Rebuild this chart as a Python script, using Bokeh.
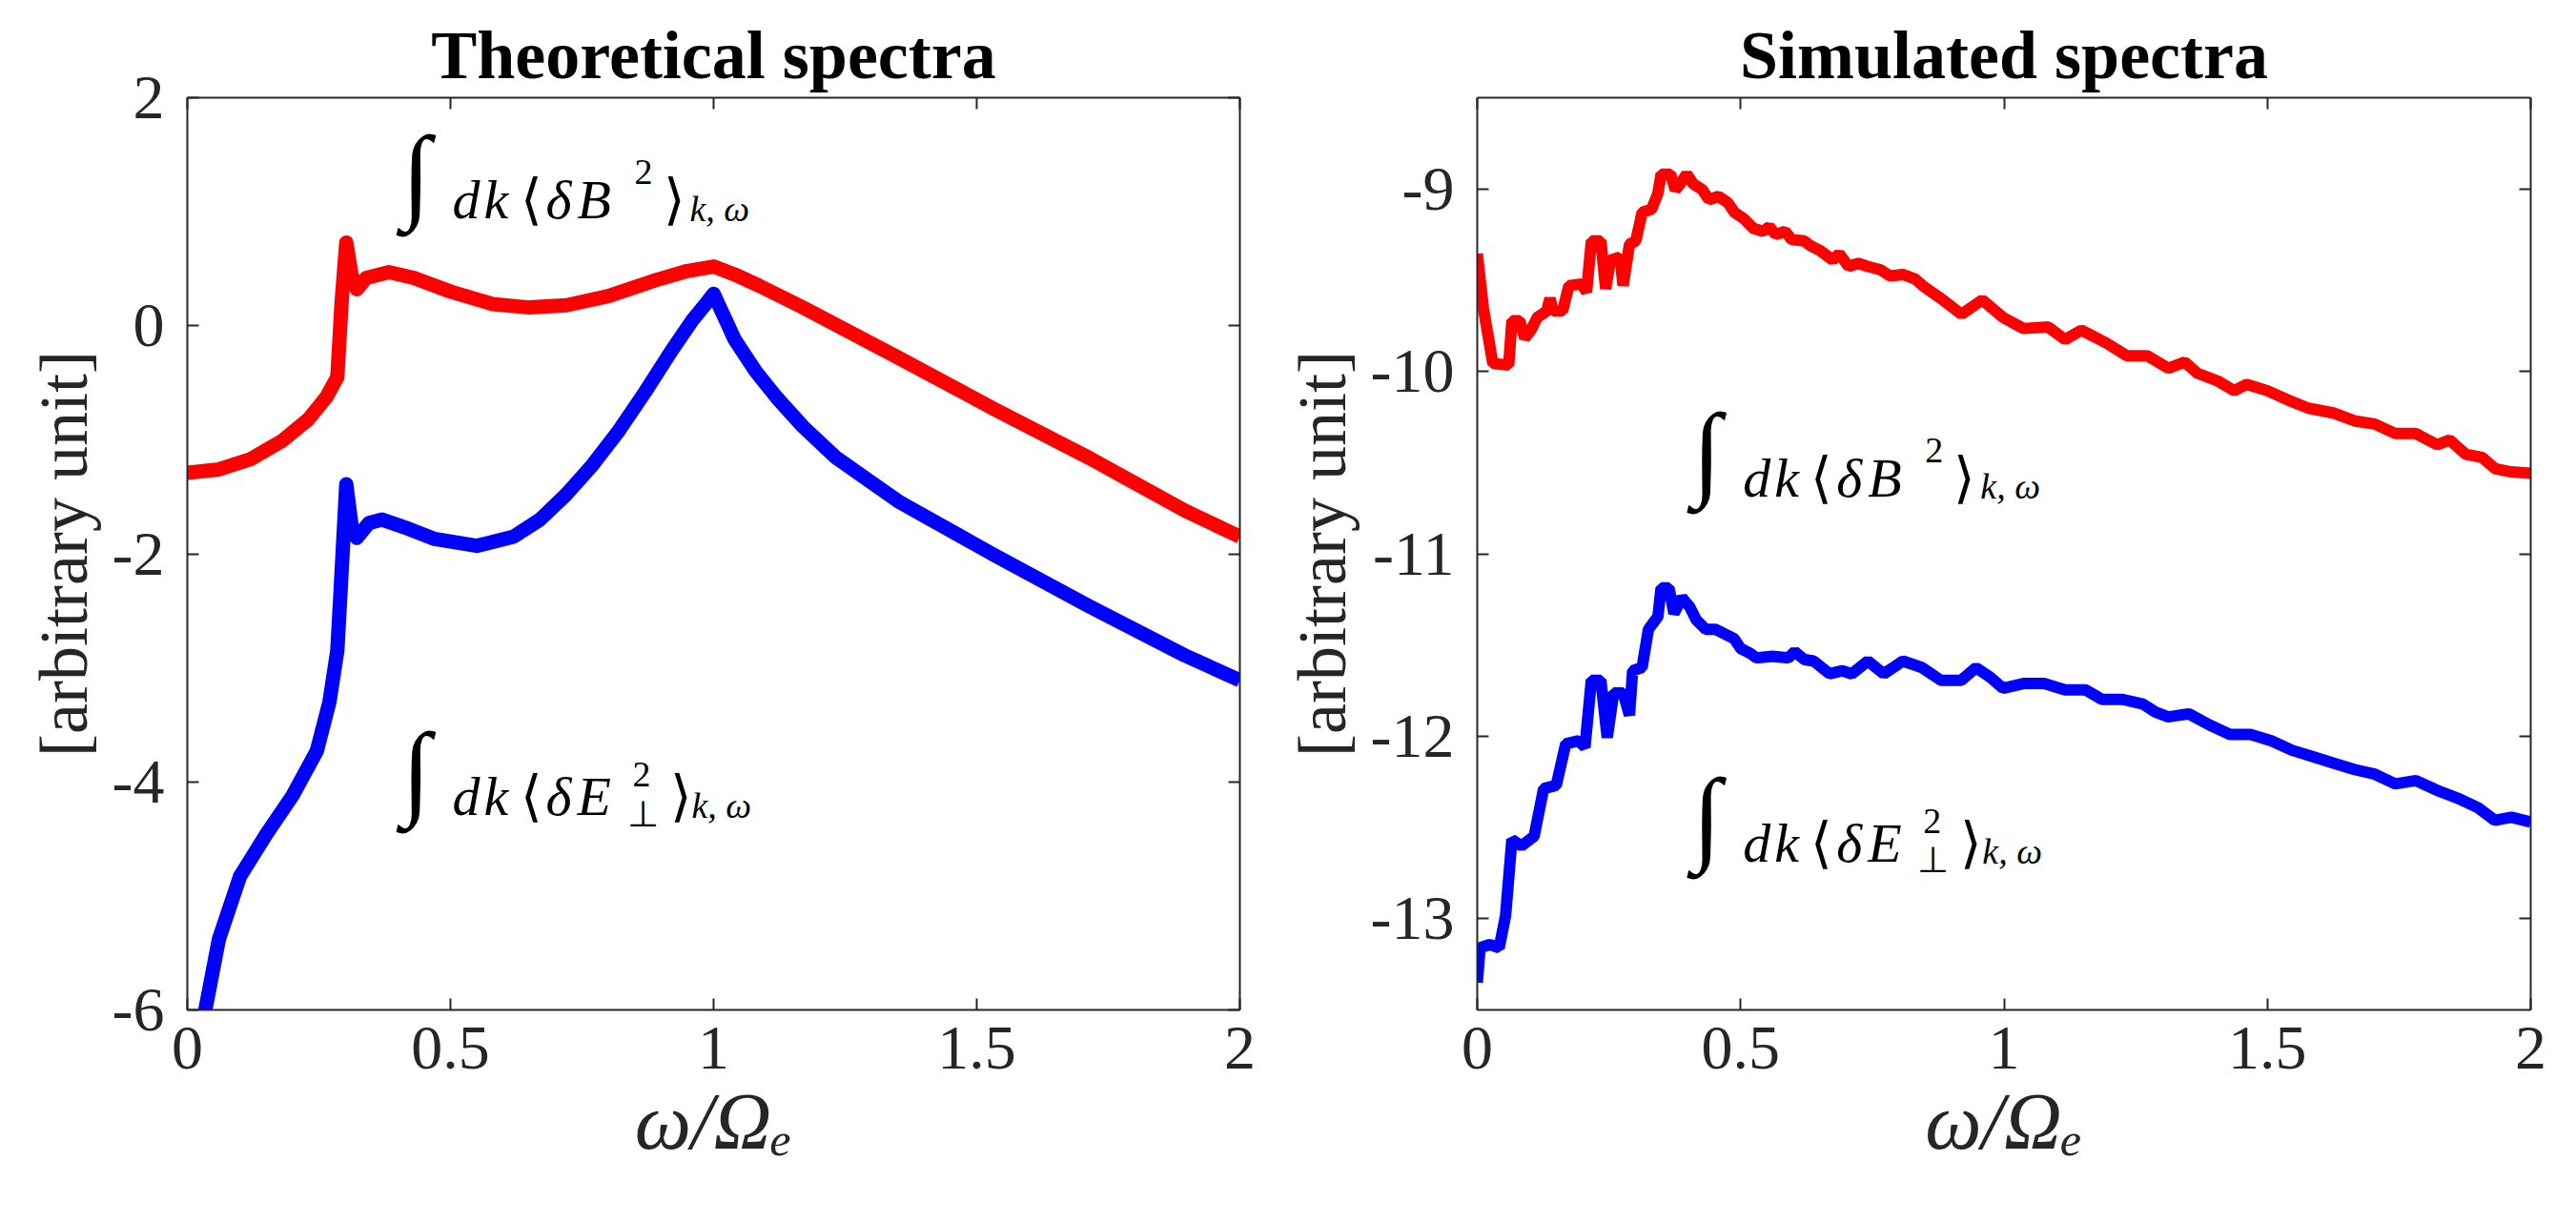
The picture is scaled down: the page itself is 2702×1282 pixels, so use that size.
from bokeh.plotting import figure
from bokeh.layouts import row
from bokeh.models import (Range1d, FixedTicker, LinearAxis, NumeralTickFormatter, Label,
                          CustomJSTickFormatter)
from bokeh.embed import file_html
from bokeh.resources import INLINE

# ---- theoretical spectra ----
theo_w_B = [0.0, 0.06, 0.12, 0.18, 0.23, 0.265, 0.285, 0.293, 0.302, 0.312, 0.322, 0.34,
            0.383, 0.43, 0.5, 0.58, 0.65, 0.72, 0.8, 0.89, 0.95, 1.0, 1.04, 1.087, 1.17,
            1.351, 1.533, 1.714, 1.895, 2.0]
theo_B = [-1.29, -1.26, -1.17, -1.01, -0.82, -0.62, -0.45, 0.2, 0.73, 0.45, 0.32, 0.42,
          0.47, 0.42, 0.30, 0.19, 0.16, 0.18, 0.26, 0.40, 0.48, 0.52, 0.45, 0.35, 0.16,
          -0.28, -0.73, -1.16, -1.62, -1.85]

theo_w_E = [0.03, 0.06, 0.10, 0.15, 0.20, 0.246, 0.27, 0.285, 0.295, 0.302, 0.312, 0.322,
            0.345, 0.37, 0.42, 0.47, 0.55, 0.62, 0.67, 0.72, 0.77, 0.82, 0.87, 0.92, 0.96,
            0.99, 1.0, 1.01, 1.04, 1.08, 1.12, 1.17, 1.231, 1.351, 1.533, 1.714, 1.895, 2.0]
theo_E = [-6.1, -5.38, -4.83, -4.46, -4.12, -3.73, -3.3, -2.85, -2.0, -1.39, -1.75, -1.86,
          -1.73, -1.70, -1.78, -1.87, -1.93, -1.85, -1.70, -1.48, -1.22, -0.92, -0.58, -0.22,
          0.05, 0.22, 0.28, 0.18, -0.12, -0.40, -0.63, -0.885, -1.15, -1.54, -2.01, -2.46,
          -2.89, -3.11]

# ---- simulated spectra ----
sim_w_B = [0.0, 0.0115, 0.0296, 0.0597, 0.0658, 0.0808, 0.0899, 0.102, 0.114, 0.132, 0.138,
           0.144, 0.162, 0.174, 0.198, 0.2075, 0.2166, 0.2347, 0.2437, 0.2528, 0.2709, 0.2769,
           0.289, 0.301, 0.313, 0.331, 0.343, 0.349, 0.367, 0.376, 0.3855, 0.3976, 0.4097,
           0.4278, 0.4398, 0.4579, 0.476, 0.488, 0.506, 0.524, 0.5424, 0.5545, 0.5665, 0.5846,
           0.5967, 0.6208, 0.633, 0.651, 0.675, 0.687, 0.705, 0.7234, 0.7415, 0.7656, 0.7837,
           0.8078, 0.832, 0.849, 0.880, 0.9195, 0.9587, 0.998, 1.037, 1.084, 1.116, 1.147,
           1.194, 1.233, 1.272, 1.312, 1.343, 1.367, 1.406, 1.437, 1.461, 1.500, 1.540, 1.578,
           1.625, 1.665, 1.704, 1.743, 1.782, 1.822, 1.846, 1.877, 1.908, 1.932, 1.963, 2.0]
sim_B = [-9.355, -9.652, -9.957, -9.966, -9.722, -9.722, -9.818, -9.774, -9.704, -9.669,
         -9.600, -9.669, -9.669, -9.530, -9.521, -9.565, -9.285, -9.285, -9.547, -9.390,
         -9.373, -9.530, -9.303, -9.285, -9.128, -9.111, -9.024, -8.919, -8.919, -9.006,
         -8.971, -8.919, -8.971, -9.006, -9.059, -9.041, -9.076, -9.128, -9.163, -9.216,
         -9.233, -9.207, -9.250, -9.233, -9.277, -9.285, -9.312, -9.338, -9.390, -9.355,
         -9.425, -9.408, -9.425, -9.443, -9.477, -9.469, -9.495, -9.538, -9.600, -9.687,
         -9.608, -9.704, -9.765, -9.757, -9.826, -9.774, -9.844, -9.914, -9.914, -9.983,
         -9.949, -10.010, -10.053, -10.106, -10.071, -10.106, -10.158, -10.202, -10.228,
         -10.271, -10.289, -10.341, -10.341, -10.402, -10.376, -10.455, -10.472, -10.533,
         -10.551, -10.559]

sim_w_E = [0.0, 0.0054, 0.0235, 0.0416, 0.0537, 0.0658, 0.0839, 0.108, 0.126, 0.150, 0.168,
           0.1925, 0.2045, 0.2166, 0.2347, 0.2468, 0.2589, 0.277, 0.289, 0.295, 0.313, 0.325,
           0.343, 0.349, 0.364, 0.3735, 0.3885, 0.4036, 0.4157, 0.4338, 0.4519, 0.47, 0.488,
           0.500, 0.518, 0.530, 0.5605, 0.5906, 0.6027, 0.621, 0.639, 0.669, 0.6932, 0.711,
           0.7415, 0.7717, 0.808, 0.844, 0.880, 0.919, 0.947, 0.974, 0.998, 1.037, 1.076,
           1.116, 1.155, 1.186, 1.225, 1.264, 1.288, 1.312, 1.351, 1.390, 1.429, 1.468, 1.508,
           1.547, 1.586, 1.625, 1.665, 1.704, 1.743, 1.782, 1.822, 1.861, 1.900, 1.932, 1.963,
           2.0]
sim_E = [-13.35, -13.159, -13.142, -13.159, -12.985, -12.566, -12.601, -12.548, -12.287,
         -12.269, -12.042, -12.025, -12.060, -11.693, -11.693, -12.007, -11.763, -11.763,
         -11.885, -11.641, -11.623, -11.414, -11.344, -11.187, -11.187, -11.327, -11.240,
         -11.292, -11.362, -11.414, -11.414, -11.440, -11.466, -11.519, -11.545, -11.571,
         -11.562, -11.571, -11.536, -11.580, -11.588, -11.658, -11.641, -11.658, -11.588,
         -11.658, -11.588, -11.623, -11.693, -11.693, -11.624, -11.676, -11.737, -11.711,
         -11.711, -11.746, -11.746, -11.798, -11.798, -11.824, -11.868, -11.894, -11.877,
         -11.938, -11.990, -11.990, -12.025, -12.077, -12.112, -12.147, -12.182, -12.208,
         -12.261, -12.243, -12.296, -12.339, -12.392, -12.461, -12.444, -12.470]

x_ticks = [0, 0.5, 1, 1.5, 2]
theo_ticks = [-6, -4, -2, 0, 2]
sim_ticks = [-13, -12, -11, -10, -9]

SERIF = "Liberation Serif"
INK = "#262626"


def style_axis(ax, ticks, show_labels):
    ax.ticker = FixedTicker(ticks=ticks)
    ax.axis_line_color = INK
    ax.axis_line_width = 2
    ax.major_tick_line_color = INK
    ax.major_tick_line_width = 2
    ax.major_tick_in = 12
    ax.major_tick_out = 0
    ax.minor_tick_line_color = None
    if show_labels:
        ax.major_label_text_font = SERIF
        ax.major_label_text_font_size = "66px"
        ax.major_label_text_color = INK
    else:
        ax.formatter = CustomJSTickFormatter(code="return ''")
        ax.major_label_standoff = 0


def make_panel(title, y_lo, y_hi, y_ticks, border_left, border_right, fw):
    p = figure(x_range=Range1d(0, 2), y_range=Range1d(y_lo, y_hi),
               frame_width=fw, frame_height=957,
               min_border_left=border_left, min_border_right=border_right,
               min_border_top=102, min_border_bottom=207,
               output_backend="svg", toolbar_location=None, tools="")
    p.grid.visible = False
    p.outline_line_color = None
    p.border_fill_color = "white"

    p.title.text = title
    p.title.align = "center"
    p.title.text_font = SERIF
    p.title.text_font_style = "bold"
    p.title.text_font_size = "72px"
    p.title.text_color = "black"

    xb = p.below[0]
    yl = p.left[0]
    style_axis(xb, x_ticks, True)
    xb.formatter = NumeralTickFormatter(format="0.[0]")
    xb.major_label_standoff = 18
    xb.axis_label = "ω/Ωₑ"
    xb.axis_label_text_font = SERIF
    xb.axis_label_text_font_style = "italic"
    xb.axis_label_text_font_size = "84px"
    xb.axis_label_text_color = INK
    xb.axis_label_standoff = 6

    style_axis(yl, y_ticks, True)
    yl.formatter = NumeralTickFormatter(format="0")
    yl.major_label_standoff = 24
    yl.axis_label = "[arbitrary unit]"
    yl.axis_label_text_font = SERIF
    yl.axis_label_text_font_style = "normal"
    yl.axis_label_text_font_size = "72px"
    yl.axis_label_text_color = INK
    yl.axis_label_standoff = 8

    top = LinearAxis()
    style_axis(top, x_ticks, False)
    p.add_layout(top, "above")
    right = LinearAxis()
    style_axis(right, y_ticks, False)
    p.add_layout(right, "right")
    return p


def add_formula(p, x, y, sym):
    # integral expression built glyph by glyph: (text, dx, dy, size, style)
    pieces = [("∫", 2, 28, "110px", "normal"),
              ("d", 55, 0, "58px", "italic"),
              ("k", 88, 0, "58px", "italic"),
              ("⟨", 126, 0, "58px", "normal"),
              ("δ", 153, 0, "58px", "italic"),
              (sym, 186, 0, "58px", "italic")]
    if sym == "B":
        pieces += [("2", 246, 29, "38px", "normal"),
                   ("⟩", 276, 0, "58px", "normal"),
                   ("k, ω", 304, -9, "38px", "italic")]
    else:
        pieces += [("2", 244, 23, "38px", "normal"),
                   ("⊥", 238, -18, "38px", "normal"),
                   ("⟩", 283, 0, "58px", "normal"),
                   ("k, ω", 306, -9, "38px", "italic")]
    for text, dx, dy, size, style in pieces:
        p.add_layout(Label(x=x, y=y, x_offset=dx, y_offset=dy, text=text,
                           text_font=SERIF, text_font_size=size, text_font_style=style,
                           text_color="black", text_baseline="alphabetic"))


p1 = make_panel("Theoretical spectra", -6, 2, theo_ticks, 196, 40, 1104)
p1.line(theo_w_B, theo_B, line_color="#ff0000", line_width=15, line_join="round")
p1.line(theo_w_E, theo_E, line_color="#0000ff", line_width=15, line_join="round")
add_formula(p1, 0.404, 1.105, "B")
add_formula(p1, 0.404, -4.129, "E")

p2 = make_panel("Simulated spectra", -13.5, -8.5, sim_ticks, 209, 32, 1105)
p2.line(sim_w_B, sim_B, line_color="#ff0000", line_width=12, line_join="bevel")
p2.line(sim_w_E, sim_E, line_color="#0000ff", line_width=12, line_join="bevel")
add_formula(p2, 0.405, -10.584, "B")
add_formula(p2, 0.405, -12.584, "E")

layout = row(p1, p2)
open("out.html", "w").write(file_html(layout, INLINE))
